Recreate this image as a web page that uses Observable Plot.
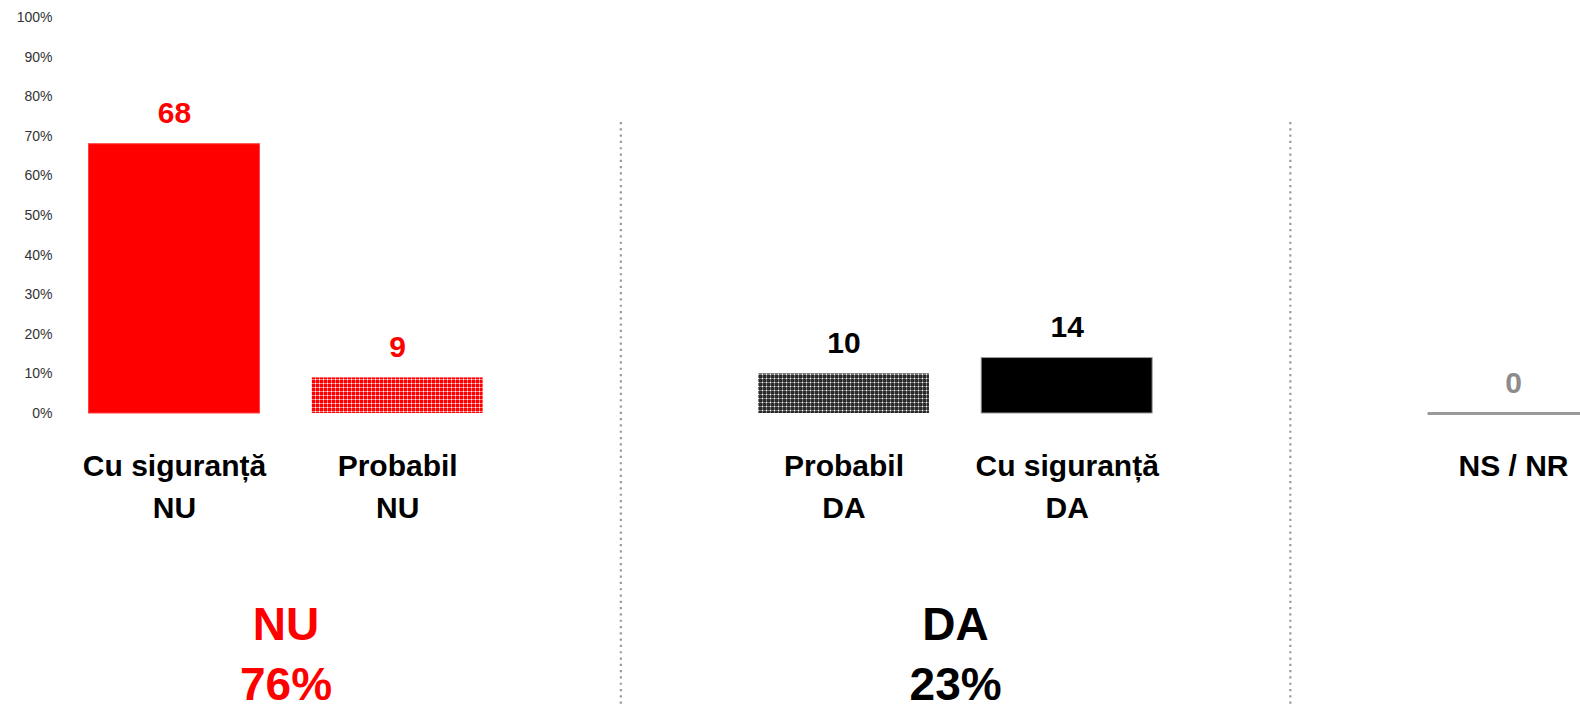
<!DOCTYPE html>
<html>
<head>
<meta charset="utf-8">
<script src="https://cdn.jsdelivr.net/npm/d3@7"></script>
<script src="https://cdn.jsdelivr.net/npm/@observablehq/plot@0.6"></script>
<style>
  html, body { margin: 0; padding: 0; background: #fff; overflow: hidden; }
</style>
</head>
<body>
<div id="chart"></div>
<script>
// ---- data ----
const categories = ["Cu siguranță\nNU", "Probabil\nNU", "Probabil\nDA", "Cu siguranță\nDA", "NS / NR"];
const values = [68, 9, 10, 14, 0];
const groupOfCategory = ["NU", "NU", "DA", "DA", "NS"];
const groupNames = ["NU", "DA"];
const groupTotals = [76, 23];
const yTicks = [0, 10, 20, 30, 40, 50, 60, 70, 80, 90, 100];

// ---- styles ----
const barFill = ["#ff0000", "url(#patRed)", "url(#patBlack)", "#000000", "#999999"];
const barStroke = ["#ff4040", "none", "none", "#9a9a9a", "none"];
const labelColor = {NU: "#ff0000", DA: "#000000", NS: "#8c8c8c"};

// slots: consecutive within a group, one empty slot between groups
let slot = -1;
const rows = categories.map((c, i) => {
  if (i > 0 && groupOfCategory[i] !== groupOfCategory[i - 1]) slot += 1;
  slot += 1;
  return {category: c, value: values[i], group: groupOfCategory[i], slot, fill: barFill[i], stroke: barStroke[i]};
});
const separators = [];
rows.forEach((r, i) => { if (i > 0 && r.group !== rows[i - 1].group) separators.push(r.slot - 1); });
const groups = groupNames.map((g, i) => {
  const s = rows.filter(r => r.group === g).map(r => r.slot);
  return {name: g, total: groupTotals[i], x: d3.mean(s)};
});
const maxSlot = d3.max(rows, r => r.slot);
const half = 0.383;

const plot = Plot.plot({
  width: 1580,
  height: 704,
  marginLeft: 55,
  marginTop: 17,
  marginBottom: 291,
  marginRight: 0,
  style: {fontFamily: "'Liberation Sans', Arial, sans-serif", background: "#fff"},
  x: {type: "linear", domain: [-0.5, maxSlot + 0.5], range: [62.4, 1624.6], axis: null},
  y: {domain: [0, 100], range: [413, 17]},
  color: {type: "identity"},
  marks: [
    Plot.axisY({ticks: yTicks, tickFormat: d => d + "%", tickSize: 0, tickPadding: 3, fontSize: 14, color: "#333", label: null}),
    Plot.ruleX(separators, {x: d => d, y1: 73.5, y2: -74, stroke: "#9a9a9a", strokeWidth: 2.2, strokeDasharray: "2.2,4.1"}),
    Plot.rectY(rows.filter(r => r.value > 0), {x1: r => r.slot - half, x2: r => r.slot + half, y1: 0, y2: "value", fill: "fill", stroke: "stroke", strokeWidth: 1}),
    Plot.ruleY(rows.filter(r => r.value === 0), {y: "value", x1: r => r.slot - half, x2: r => r.slot + half, stroke: "#999999", strokeWidth: 3}),
    Plot.text(rows, {x: "slot", y: "value", text: r => String(r.value), dy: -21, lineAnchor: "bottom", fill: r => labelColor[r.group], fontSize: 30, fontWeight: "bold", ariaLabel: "value-labels"}),
    Plot.text(rows, {x: "slot", y: 0, text: "category", lineAnchor: "top", dy: 33, lineHeight: 1.4, fill: "#000", fontSize: 30, fontWeight: "bold", ariaLabel: "category-labels"}),
    Plot.text(groups, {x: "x", y: 0, text: d => d.name + "\n" + d.total + "%", lineAnchor: "middle", dy: 237, lineHeight: 1.3, fill: d => labelColor[d.name], fontSize: 46, fontWeight: "bold"})
  ]
});

const svg = d3.select(plot);
svg.selectAll('g[aria-label="category-labels"]').style("letter-spacing", "1.1px");
svg.selectAll('g[aria-label="value-labels"]').style("letter-spacing", "1px");

// patterns for the "Probabil" bars
const defs = svg.insert("defs", ":first-child");
const pr = defs.append("pattern").attr("id", "patRed").attr("patternUnits", "userSpaceOnUse").attr("width", 4).attr("height", 4);
pr.append("rect").attr("width", 4).attr("height", 4).attr("fill", "#ff0000");
pr.append("rect").attr("x", 3).attr("width", 1).attr("height", 4).attr("fill", "#ff8080");
pr.append("rect").attr("y", 3).attr("width", 4).attr("height", 1).attr("fill", "#ff8080");
pr.append("rect").attr("x", 3).attr("y", 3).attr("width", 1).attr("height", 1).attr("fill", "#ffffff");
const pb = defs.append("pattern").attr("id", "patBlack").attr("patternUnits", "userSpaceOnUse").attr("width", 4).attr("height", 4);
pb.append("rect").attr("width", 4).attr("height", 4).attr("fill", "#2a2a2a");
pb.append("rect").attr("x", 2).attr("width", 1).attr("height", 4).attr("fill", "#777777");
pb.append("rect").attr("y", 2).attr("width", 4).attr("height", 1).attr("fill", "#777777");
pb.append("rect").attr("x", 2).attr("y", 2).attr("width", 1).attr("height", 1).attr("fill", "#ffffff");

plot.style.maxWidth = "none";
document.getElementById("chart").appendChild(plot);
</script>
</body>
</html>
